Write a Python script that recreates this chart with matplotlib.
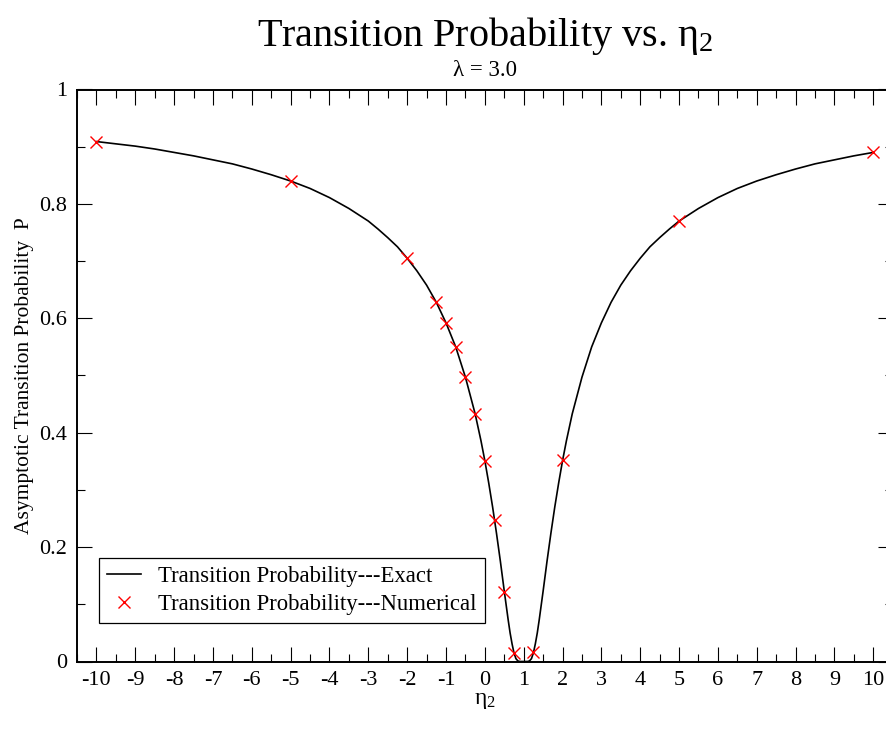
import matplotlib
matplotlib.use("Agg")
import matplotlib.pyplot as plt
from matplotlib.ticker import MultipleLocator, FormatStrFormatter

# exact curve (dense near the dip at eta2 = 1)
eta_exact = [-10, -9.5, -9, -8.5, -8, -7.5, -7, -6.5, -6, -5.5, -5, -4.5,
             -4, -3.5, -3, -2.75, -2.5, -2.25, -2, -1.75, -1.5, -1.25, -1,
             -0.75, -0.5, -0.25, -0.1, 0, 0.1, 0.2, 0.3, 0.4, 0.45, 0.5,
             0.55, 0.6, 0.65, 0.7, 0.75, 0.8, 0.85, 0.9, 1.0, 1.1, 1.15,
             1.2, 1.25, 1.3, 1.35, 1.4, 1.45, 1.5, 1.55, 1.6, 1.7, 1.8, 1.9,
             2.0, 2.1, 2.25, 2.5, 2.75, 3, 3.25, 3.5, 3.75, 4, 4.25, 4.5,
             4.75, 5, 5.5, 6, 6.5, 7, 7.5, 8, 8.5, 9, 9.5, 10]
p_exact = [0.909, 0.905, 0.901, 0.896, 0.890, 0.884, 0.877, 0.870, 0.861,
           0.851, 0.840, 0.827, 0.811, 0.792, 0.770, 0.756, 0.741, 0.725,
           0.705, 0.683, 0.658, 0.628, 0.592, 0.550, 0.497, 0.433, 0.386,
           0.351, 0.312, 0.270, 0.224, 0.175, 0.149, 0.123, 0.098, 0.073,
           0.050, 0.031, 0.015, 0.005, 0.001, 0.0, 0.0, 0.0, 0.001, 0.005,
           0.015, 0.031, 0.050, 0.073, 0.098, 0.123, 0.149, 0.175, 0.224,
           0.270, 0.312, 0.351, 0.386, 0.433, 0.497, 0.550, 0.592, 0.628,
           0.658, 0.683, 0.705, 0.725, 0.741, 0.756, 0.770, 0.792, 0.811,
           0.827, 0.840, 0.851, 0.861, 0.870, 0.877, 0.884, 0.890]

# numerical points (red crosses)
eta_num = [-10, -5, -2, -1.25, -1, -0.75, -0.5, -0.25, 0, 0.25, 0.5, 0.75,
           1.25, 2, 5, 10]
p_num = [0.909, 0.840, 0.705, 0.628, 0.592, 0.550, 0.497, 0.432, 0.351,
         0.247, 0.122, 0.014, 0.016, 0.352, 0.770, 0.890]

plt.rcParams['font.family'] = ['Liberation Serif', 'DejaVu Serif']
plt.rcParams['mathtext.fontset'] = 'custom'
plt.rcParams['mathtext.rm'] = 'Liberation Serif'
plt.rcParams['mathtext.it'] = 'Liberation Serif'
plt.rcParams['axes.unicode_minus'] = False

W, H = 886, 730
fig = plt.figure(figsize=(W / 100, H / 100), dpi=100)
# the right edge of the frame falls just outside the picture, as in the original
left, right, top, bottom = 77, 892.7, 89.5, 661.5
ax = fig.add_axes([left / W, (H - bottom) / H, (right - left) / W, (bottom - top) / H])

ax.plot(eta_exact, p_exact, color='black', lw=1.2,
        label='Transition Probability---Exact')
ax.plot(eta_num, p_num, ls='none', marker='x', color='red', ms=9, mew=1.0,
        label='Transition Probability---Numerical')

ax.set_xlim(-10.5, 10.5)
ax.set_ylim(0, 1)
ax.xaxis.set_major_locator(MultipleLocator(1))
ax.xaxis.set_minor_locator(MultipleLocator(0.5))
ax.yaxis.set_major_locator(MultipleLocator(0.2))
ax.yaxis.set_minor_locator(MultipleLocator(0.1))
ax.yaxis.set_major_formatter(FormatStrFormatter('%g'))

ax.tick_params(which='both', direction='in', top=True, right=True,
               labelsize=16, width=0.8)
ax.tick_params(which='major', length=10.5, pad=7)
ax.tick_params(which='minor', length=5.8)
for s in ax.spines.values():
    s.set_linewidth(1.4)

ax.set_xlabel(r'$\eta_2$', fontsize=17)
ax.xaxis.set_label_coords(0.5, -0.05)
ax.set_ylabel('Asymptotic Transition Probability  P', fontsize=15.5)
ax.yaxis.set_label_coords(-0.053, 0.5)

fig.text(485 / W, 1 - 36 / H, r'Transition Probability vs. $\eta_2$',
         ha='center', va='center', fontsize=29)
fig.text(485 / W, 1 - 70 / H, 'λ = 3.0', ha='center', va='center', fontsize=16.5)

leg = ax.legend(loc='lower left', bbox_to_anchor=(0.027, 0.067), fontsize=16.4,
                frameon=True, fancybox=False, framealpha=1, edgecolor='black',
                handlelength=1.5, handletextpad=0.75, borderpad=0.35,
                labelspacing=0.3, borderaxespad=0)
leg.get_frame().set_linewidth(0.9)

fig.savefig('out.png', dpi=100)
